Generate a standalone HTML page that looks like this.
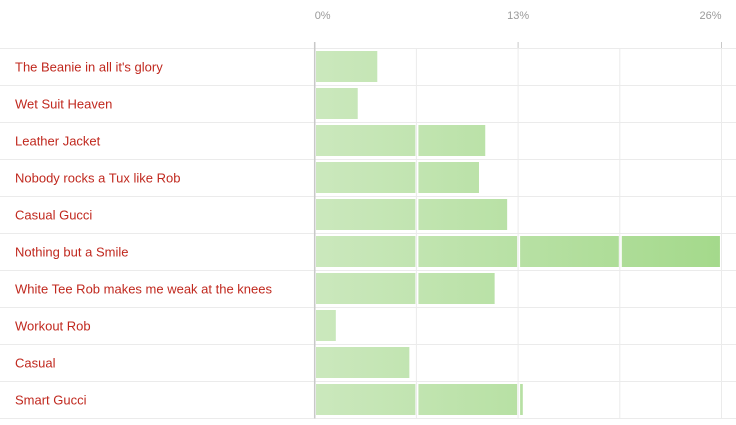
<!DOCTYPE html>
<html><head><meta charset="utf-8"><style>
html,body{margin:0;padding:0;background:#fff;}
svg{display:block;font-family:"Liberation Sans",sans-serif;}
</style></head><body>
<svg id="chart" width="736" height="425">
<defs><linearGradient id="g" gradientUnits="userSpaceOnUse" x1="315" y1="0" x2="721" y2="0">
<stop offset="0" stop-color="#cbe8bd"/><stop offset="1" stop-color="#a4d98b"/></linearGradient></defs>
</svg>
<script>
const categories=["The Beanie in all it's glory","Wet Suit Heaven","Leather Jacket","Nobody rocks a Tux like Rob","Casual Gucci","Nothing but a Smile","White Tee Rob makes me weak at the knees","Workout Rob","Casual","Smart Gucci"];
const values=[4.0,2.75,10.9,10.5,12.3,25.9,11.5,1.35,6.05,13.3];
const tickValues=[0,13,26];
const tickLabels=["0%","13%","26%"];
const gridValues=[0,6.5,13,19.5,26];
const NS="http://www.w3.org/2000/svg";
const svg=document.getElementById('chart');
const x0=314.7,x1=721.5,maxV=26,top0=48.5,rowH=37;
const xs=v=>x0+(v/maxV)*(x1-x0);
function mk(t,a,p){const e=document.createElementNS(NS,t);for(const k in a)e.setAttribute(k,a[k]);(p||svg).appendChild(e);return e;}
// row lines
for(let i=0;i<=categories.length;i++){
  const l=mk('line',{x1:0,x2:736,y1:top0+i*rowH,y2:top0+i*rowH,stroke:'#ebebeb','stroke-width':1});
  
  
}
// grid lines
gridValues.forEach((v,i)=>{
  const l=mk('line',{x1:xs(v),x2:xs(v),y1:i==0?42:48,y2:418.5,stroke:i==0?'#c8c8c8':'#ebebeb','stroke-width':i==0?1.5:1});
  
  
});
tickValues.forEach((v,i)=>{
  const tm=mk('line',{x1:xs(v),x2:xs(v),y1:42,y2:48,stroke:'#c8c8c8','stroke-width':1});
  
  
  const anchor=i==0?'start':(i==tickValues.length-1?'end':'middle');
  const t=mk('text',{x:i==0?xs(v):xs(v)+(i==tickValues.length-1?0:0),y:19,'font-size':11,fill:'#9a9a9a','text-anchor':anchor});
  t.textContent=tickLabels[i];
  
  
});
categories.forEach((c,i)=>{
  const y=top0+i*rowH;
  const t=mk('text',{x:15,y:y+23,'font-size':13,fill:'#c0281e'});
  t.textContent=c;
  
  
  const end=xs(values[i]);
  for(let k=0;k<gridValues.length-1;k++){
    const s=k==0?xs(0)+1.3:xs(gridValues[k])+2;
    const e=Math.min(end,xs(gridValues[k+1])-1);
    if(e<=s)continue;
    const r=mk('rect',{x:s,y:y+2.5,width:e-s,height:31,fill:'url(#g)'});
    
    
  }
});
</script>
</body></html>
